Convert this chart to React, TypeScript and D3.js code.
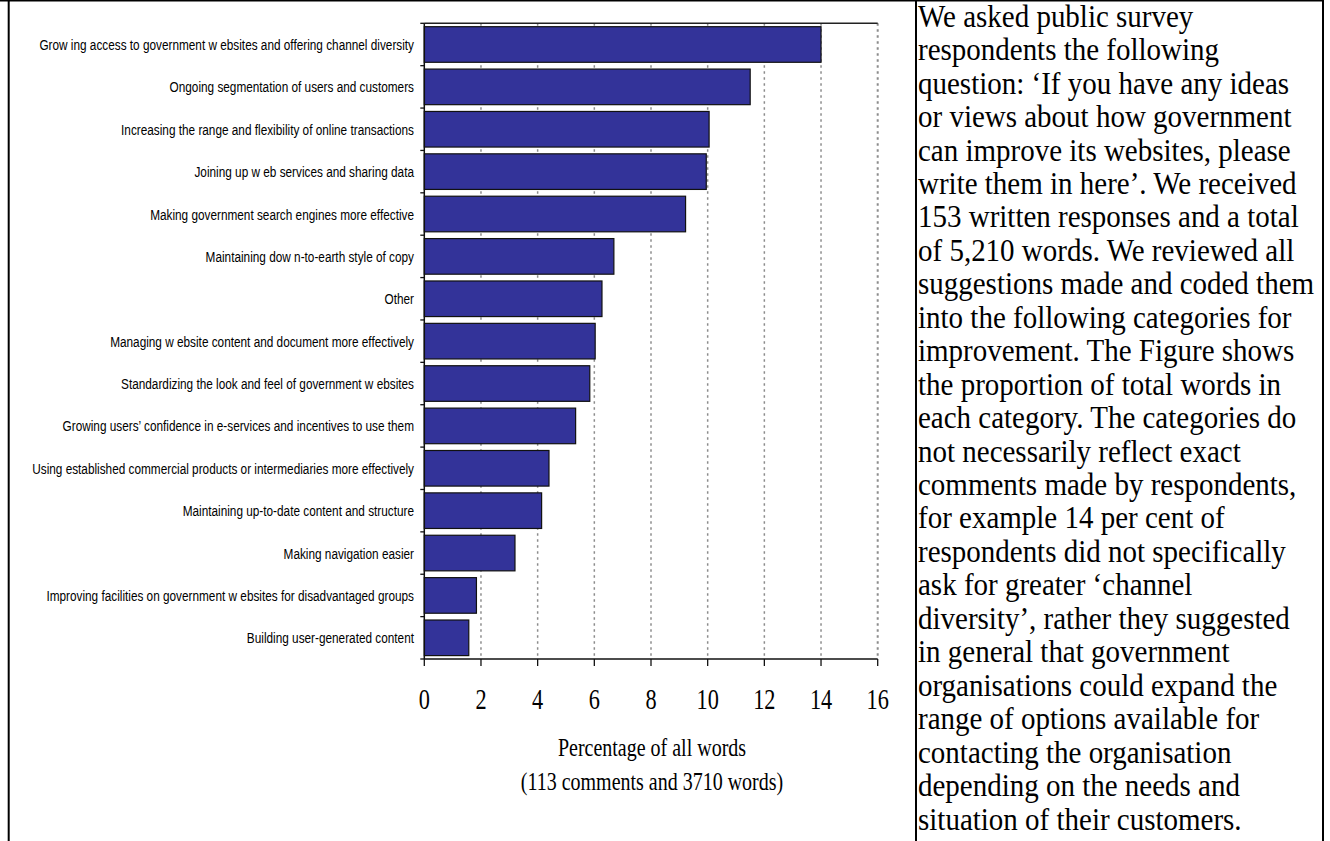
import React from "react";
import * as d3 from "d3";

const categories: string[] = [
  "Grow ing access to government w ebsites and offering channel diversity",
  "Ongoing segmentation of users and customers",
  "Increasing the range and flexibility of online transactions",
  "Joining up w eb services and sharing data",
  "Making government search engines more effective",
  "Maintaining dow n-to-earth style of copy",
  "Other",
  "Managing w ebsite content and document more effectively",
  "Standardizing the look and feel of government w ebsites",
  "Growing users’ confidence in e-services and incentives to use them",
  "Using established commercial products or intermediaries more effectively",
  "Maintaining up-to-date content and structure",
  "Making navigation easier",
  "Improving facilities on government w ebsites for disadvantaged groups",
  "Building user-generated content",
];

const values: number[] = [14.0, 11.5, 10.05, 9.95, 9.22, 6.69, 6.27, 6.03, 5.84, 5.34, 4.4, 4.14, 3.2, 1.84, 1.57];

const xTicks: number[] = [0, 2, 4, 6, 8, 10, 12, 14, 16];

const axisTitle: string[] = ["Percentage of all words", "(113 comments and 3710 words)"];

const sideText: string[] = [
  "We asked public survey",
  "respondents the following",
  "question: ‘If you have any ideas",
  "or views about how government",
  "can improve its websites, please",
  "write them in here’. We received",
  "153 written responses and a total",
  "of 5,210 words. We reviewed all",
  "suggestions made and coded them",
  "into the following categories for",
  "improvement. The Figure shows",
  "the proportion of total words in",
  "each category. The categories do",
  "not necessarily reflect exact",
  "comments made by respondents,",
  "for example 14 per cent of",
  "respondents did not specifically",
  "ask for greater ‘channel",
  "diversity’, rather they suggested",
  "in general that government",
  "organisations could expand the",
  "range of options available for",
  "contacting the organisation",
  "depending on the needs and",
  "situation of their customers.",
];

export default function App() {
  const W = 1330;
  const H = 841;
  const left = 424.3;
  const right = 877.7;
  const top = 23.3;
  const bottom = 659;

  const x = d3.scaleLinear().domain([0, 16]).range([left, right]);
  const y = d3
    .scaleBand<string>()
    .domain(categories)
    .range([top, bottom])
    .paddingInner(0.16)
    .paddingOuter(0.08);

  const step = (bottom - top) / categories.length;
  const boundaries = d3.range(categories.length + 1).map((i) => top + i * step);

  const serif = "'Liberation Serif', 'Times New Roman', serif";
  const sans = "'Liberation Sans', Arial, sans-serif";

  return (
    <svg
      width={W}
      height={H}
      style={{ position: "absolute", left: 0, top: 0, background: "#fff" }}
    >
      <rect x={0} y={0} width={W} height={H} fill="#fff" />
      {/* gridlines */}
      {xTicks.slice(1).map((t) => (
        <line
          key={"g" + t}
          x1={x(t)}
          x2={x(t)}
          y1={top}
          y2={bottom}
          stroke="#8c8c8c"
          strokeWidth={t === 16 ? 2 : 1.5}
          strokeDasharray="2.5,3.5"
        />
      ))}
      {/* top border of plot area */}
      <line x1={left} x2={right} y1={top} y2={top} stroke="#222" strokeWidth={1.4} />
      {/* bars */}
      {categories.map((c, i) => (
        <rect
          key={c}
          x={x(0)}
          y={y(c)!}
          width={x(values[i]) - x(0)}
          height={y.bandwidth()}
          fill="#333399"
          stroke="#111"
          strokeWidth={1.2}
        />
      ))}
      {/* y axis */}
      <line x1={left} x2={left} y1={top} y2={bottom} stroke="#111" strokeWidth={1.5} />
      {boundaries.map((b, i) => (
        <line key={"yt" + i} x1={left - 4} x2={left} y1={b} y2={b} stroke="#111" strokeWidth={1.3} />
      ))}
      {/* x axis */}
      <line x1={left} x2={right} y1={bottom} y2={bottom} stroke="#111" strokeWidth={1.5} />
      {xTicks.map((t) => (
        <line key={"xt" + t} x1={x(t)} x2={x(t)} y1={bottom} y2={bottom + 7} stroke="#111" strokeWidth={1.3} />
      ))}
      {xTicks.map((t) => (
        <text
          key={"xl" + t}
          transform={`translate(${x(t)},709.3) scale(1,1.28)`}
          textAnchor="middle"
          fontFamily={serif}
          fontSize={22.3}
          fill="#000"
        >
          {t}
        </text>
      ))}
      {/* category labels */}
      {categories.map((c) => (
        <text
          key={"cl" + c}
          transform={`translate(414,${y(c)! + y.bandwidth() / 2 + 5.5}) scale(1,1.3)`}
          textAnchor="end"
          fontFamily={sans}
          fontSize={11.8}
          fill="#000"
        >
          {c}
        </text>
      ))}
      {/* axis title */}
      {axisTitle.map((t, i) => (
        <text
          key={"at" + i}
          transform={`translate(652,${756 + i * 34}) scale(1,1.25)`}
          textAnchor="middle"
          fontFamily={serif}
          fontSize={20}
          fill="#000"
        >
          {t}
        </text>
      ))}
      {/* side text */}
      {sideText.map((t, i) => (
        <text
          key={"st" + i}
          transform={`translate(918,${26.7 + i * 33.45}) scale(1,1.1)`}
          fontFamily={serif}
          fontSize={29}
          fill="#000"
        >
          {t}
        </text>
      ))}
      {/* outer frame */}
      <line x1={0} x2={1324} y1={0.5} y2={0.5} stroke="#000" strokeWidth={2} />
      <line x1={8.7} x2={8.7} y1={0} y2={H} stroke="#000" strokeWidth={2} />
      <line x1={916} x2={916} y1={0} y2={H} stroke="#000" strokeWidth={2} />
      <line x1={1323} x2={1323} y1={0} y2={H} stroke="#000" strokeWidth={2} />
    </svg>
  );
}
